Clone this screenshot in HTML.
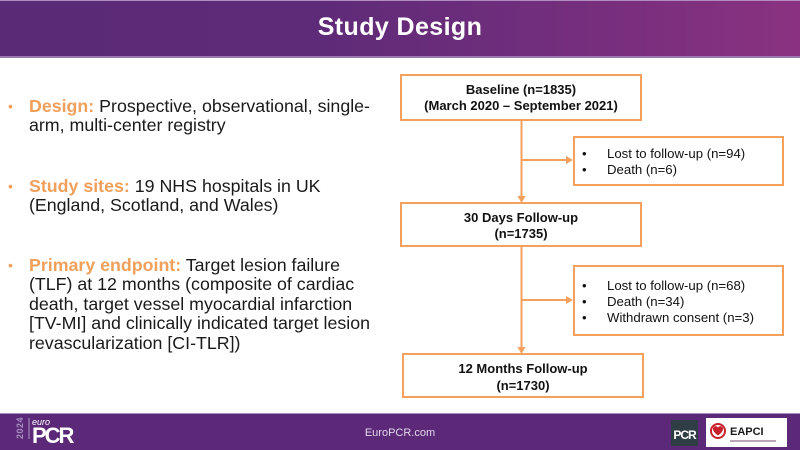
<!DOCTYPE html>
<html>
<head>
<meta charset="utf-8">
<style>
  html,body{margin:0;padding:0;}
  body{width:800px;height:450px;position:relative;overflow:hidden;background:#ffffff;font-family:"Liberation Sans",Arial,sans-serif;}
  .header{position:absolute;left:0;top:0;width:800px;height:58px;background:linear-gradient(90deg,#5a2a76 0%,#5e2b78 40%,#7a2f7e 80%,#8a3281 100%);border-top:1px solid #b08cc0;box-sizing:border-box;border-bottom:2px solid #9a78b0;}
  .footer{position:absolute;left:0;top:413px;width:800px;height:37px;background:#5b2977;border-top:1px solid #a58cbf;box-sizing:border-box;}
  .item{position:absolute;left:29px;font-size:17.8px;line-height:19.4px;color:#1a1a1a;white-space:nowrap;}
  .item .lbl{color:#f0a05a;font-weight:bold;}
  .bul{position:absolute;left:8px;color:#f0a05a;font-size:14px;line-height:19.4px;}
</style>
</head>
<body>
<div class="header"></div>
<svg width="800" height="58" style="position:absolute;left:0;top:0;" xmlns="http://www.w3.org/2000/svg">
  <text x="400" y="35" text-anchor="middle" font-family="Liberation Sans, Arial, sans-serif" font-size="25" font-weight="bold" fill="#ffffff" letter-spacing="0.4">Study Design</text>
</svg>

<div class="bul" style="top:97px;">•</div>
<div class="item" style="top:97px;"><span class="lbl">Design:</span> Prospective, observational, single-<br>arm, multi-center registry</div>

<div class="bul" style="top:177px;">•</div>
<div class="item" style="top:177px;"><span class="lbl">Study sites:</span> 19 NHS hospitals in UK<br>(England, Scotland, and Wales)</div>

<div class="bul" style="top:256px;">•</div>
<div class="item" style="top:256px;"><span class="lbl">Primary endpoint:</span> Target lesion failure<br>(TLF) at 12 months (composite of cardiac<br>death, target vessel myocardial infarction<br>[TV-MI] and clinically indicated target lesion<br>revascularization [CI-TLR])</div>

<svg width="800" height="450" style="position:absolute;left:0;top:0;" xmlns="http://www.w3.org/2000/svg">
  <g fill="none" stroke="#f5a05c" stroke-width="2">
    <rect x="401" y="75" width="240" height="45"/>
    <rect x="574" y="137" width="209" height="48"/>
    <rect x="401" y="203" width="240" height="43"/>
    <rect x="574" y="266" width="209" height="69"/>
    <rect x="403" y="354" width="240" height="43"/>
    <line x1="521.5" y1="120" x2="521.5" y2="197"/>
    <line x1="521.5" y1="160" x2="567" y2="160"/>
    <line x1="521.5" y1="246" x2="521.5" y2="348"/>
    <line x1="521.5" y1="300" x2="567" y2="300"/>
  </g>
  <g fill="#f5a05c">
    <polygon points="517.5,196 525.5,196 521.5,203"/>
    <polygon points="566,156 566,164 573,160"/>
    <polygon points="517.5,347 525.5,347 521.5,354"/>
    <polygon points="566,296 566,304 573,300"/>
  </g>
  <g font-family="Liberation Sans, Arial, sans-serif" font-size="13" fill="#111">
    <text x="521" y="94" text-anchor="middle" font-weight="bold">Baseline (n=1835)</text>
    <text x="521" y="110" text-anchor="middle" font-weight="bold">(March 2020 – September 2021)</text>
    <text x="521" y="222" text-anchor="middle" font-weight="bold">30 Days Follow-up</text>
    <text x="521" y="238" text-anchor="middle" font-weight="bold">(n=1735)</text>
    <text x="523" y="373" text-anchor="middle" font-weight="bold">12 Months Follow-up</text>
    <text x="523" y="390" text-anchor="middle" font-weight="bold">(n=1730)</text>
    <g font-size="13.2">
    <text x="582" y="158">•</text>
    <text x="607" y="158">Lost to follow-up (n=94)</text>
    <text x="582" y="174">•</text>
    <text x="607" y="174">Death (n=6)</text>
    <text x="582" y="290">•</text>
    <text x="607" y="290">Lost to follow-up (n=68)</text>
    <text x="582" y="306">•</text>
    <text x="607" y="306">Death (n=34)</text>
    <text x="582" y="322">•</text>
    <text x="607" y="322">Withdrawn consent (n=3)</text>
    </g>
  </g>
</svg>

<div class="footer"></div>
<svg width="800" height="37" style="position:absolute;left:0;top:413px;" xmlns="http://www.w3.org/2000/svg">
  <text x="0" y="0" transform="translate(23,26) rotate(-90)" font-family="Liberation Sans, Arial, sans-serif" font-size="9" font-weight="bold" fill="#a98fc2" letter-spacing="0.5">2024</text>
  <line x1="29" y1="5" x2="29" y2="26" stroke="#c9b6dc" stroke-width="0.8"/>
  <text x="32" y="12" font-family="Liberation Sans, Arial, sans-serif" font-size="9" font-style="italic" fill="#ffffff">euro</text>
  <text x="32" y="30" font-family="Liberation Sans, Arial, sans-serif" font-size="22" font-weight="bold" fill="#ffffff" letter-spacing="-2">PCR</text>
  <text x="400" y="23" text-anchor="middle" font-family="Liberation Sans, Arial, sans-serif" font-size="11" fill="#e2d8ec">EuroPCR.com</text>
  <rect x="671" y="7" width="27" height="26" fill="#2f3d45"/>
  <text x="684.5" y="26" text-anchor="middle" font-family="Liberation Sans, Arial, sans-serif" font-size="12" font-weight="bold" fill="#ffffff" letter-spacing="-1">PCR</text>
  <rect x="706" y="5" width="81" height="29" fill="#ffffff"/>
  <circle cx="718" cy="18" r="7" fill="#ffffff" stroke="#c8202c" stroke-width="2"/>
  <path d="M713,16 a2.7,2.7 0 0 1 5,-1.5 a2.7,2.7 0 0 1 5,1.5 q0,3 -5,6.5 q-5,-3.5 -5,-6.5z" fill="#c8202c"/>
  <text x="730" y="22" font-family="Liberation Sans, Arial, sans-serif" font-size="11" font-weight="bold" fill="#1a1a1a">EAPCI</text>
  <rect x="730" y="27" width="46" height="2" fill="#b9a7b5"/>
</svg>
</body>
</html>
